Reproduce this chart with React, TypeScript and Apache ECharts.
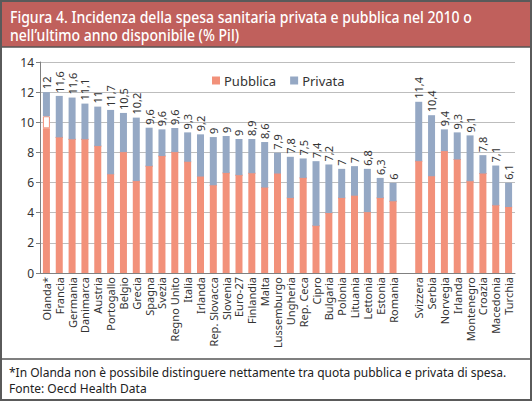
import React, { useEffect, useRef } from "react";
import * as echarts from "echarts";

const categories = [
  "Olanda*", "Francia", "Germania", "Danimarca", "Austria", "Portogallo", "Belgio", "Grecia",
  "Spagna", "Svezia", "Regno Unito", "Italia", "Irlanda", "Rep. Slovacca", "Slovenia", "Euro-27",
  "Finlandia", "Malta", "Lussemburgo", "Ungheria", "Rep. Ceca", "Cipro", "Bulgaria", "Polonia",
  "Lituania", "Lettonia", "Estonia", "Romania", "",
  "Svizzera", "Serbia", "Norvegia", "Irlanda", "Montenegro", "Croazia", "Macedonia", "Turchia",
];

const pubblica = [
  9.6, 9.0, 8.87, 8.87, 8.42, 6.55, 8.02, 6.1,
  7.09, 7.76, 8.02, 7.38, 6.4, 5.82, 6.64, 6.49,
  6.62, 5.67, 6.6, 4.98, 6.31, 3.13, 3.98, 4.98,
  5.13, 4.04, 4.98, 4.76, null,
  7.42, 6.42, 8.09, 7.53, 6.09, 6.6, 4.49, 4.38,
];

// Olanda: quota non attribuibile
const nonDistinguibile = [
  0.8, 0, 0, 0, 0, 0, 0, 0,
  0, 0, 0, 0, 0, 0, 0, 0,
  0, 0, 0, 0, 0, 0, 0, 0,
  0, 0, 0, 0, null,
  0, 0, 0, 0, 0, 0, 0, 0,
];

const privata = [
  1.6, 2.75, 2.77, 2.37, 2.62, 4.27, 2.6, 4.21,
  2.55, 1.77, 1.6, 1.95, 2.8, 3.2, 2.45, 2.4,
  2.27, 3.02, 1.38, 2.73, 1.29, 4.29, 3.22, 1.93,
  1.96, 2.87, 1.33, 1.22, null,
  3.94, 4.05, 1.44, 1.8, 3.04, 1.22, 2.64, 1.6,
];

const totalLabels = [
  12, 11.6, 11.6, 11.1, 11, 11.7, 10.5, 10.2,
  9.6, 9.6, 9.6, 9.3, 9.2, 9, 9, 9,
  8.9, 8.6, 7.9, 7.8, 7.5, 7.4, 7.2, 7,
  7, 6.8, 6.3, 6, null,
  11.4, 10.4, 9.4, 9.3, 9.1, 7.8, 7.1, 6.1,
];

const yTicks = [0, 2, 4, 6, 8, 10, 12, 14];

const titleLines = [
  "Figura 4. Incidenza della spesa sanitaria privata e pubblica nel 2010 o",
  "nell\u2019ultimo anno disponibile (% Pil)",
];
const footerLines = [
  "*In Olanda non \u00e8 possibile distinguere nettamente tra quota pubblica e privata di spesa.",
  "Fonte: Oecd Health Data",
];

const FONT = "'Noto Sans', 'Open Sans', sans-serif";
const C_PUB = "#f2917a";
const C_PRIV = "#95a8c4";

export default function App() {
  const ref = useRef<HTMLDivElement>(null);

  useEffect(() => {
    document.body.style.margin = "0";
    if (!ref.current) return;
    const chart = echarts.init(ref.current, undefined, { renderer: "svg" });
    chart.setOption({
      animation: false,
      backgroundColor: "#ffffff",
      textStyle: { fontFamily: FONT },
      grid: { left: 40, right: 17, top: 62, bottom: 128, containLabel: false },
      legend: {
        data: ["Pubblica", "Privata"],
        left: 207,
        top: 69,
        icon: "rect",
        itemWidth: 8,
        itemHeight: 8,
        itemGap: 14,
        textStyle: { fontSize: 13, color: "#333", fontFamily: FONT, padding: [0, 0, 0, -1] },
      },
      xAxis: {
        type: "category",
        data: categories,
        axisLine: { lineStyle: { color: "#808080" } },
        axisTick: { show: false },
        axisLabel: {
          rotate: 90,
          interval: 0,
          fontSize: 11,
          color: "#333",
          margin: 4,
          fontFamily: FONT,
        },
      },
      yAxis: {
        type: "value",
        min: 0,
        max: 14,
        interval: 2,
        axisLine: { show: true, lineStyle: { color: "#808080" } },
        axisTick: { show: true, length: 4, lineStyle: { color: "#808080" } },
        axisLabel: {
          fontSize: 12,
          color: "#333",
          margin: 6,
          fontFamily: FONT,
          formatter: (v: number) => (yTicks.includes(v) ? String(v) : ""),
        },
        splitLine: { lineStyle: { color: "#bdbdbd", width: 1 } },
      },
      series: [
        {
          name: "Pubblica",
          type: "bar",
          stack: "tot",
          data: pubblica,
          barWidth: 7,
          itemStyle: { color: C_PUB },
        },
        {
          name: "nd",
          type: "bar",
          stack: "tot",
          data: nonDistinguibile,
          barWidth: 7,
          itemStyle: { color: "#ffffff", borderColor: C_PUB, borderWidth: 1 },
        },
        {
          name: "Privata",
          type: "bar",
          stack: "tot",
          data: privata,
          barWidth: 7,
          itemStyle: { color: C_PRIV },
          label: {
            show: true,
            position: "top",
            rotate: 90,
            align: "left",
            verticalAlign: "middle",
            distance: 3,
            fontSize: 11,
            color: "#333",
            fontFamily: FONT,
            formatter: (p: any) => {
              const v = totalLabels[p.dataIndex];
              return v == null ? "" : String(v).replace(".", ",");
            },
          },
        },
      ],
      graphic: [
        {
          type: "rect",
          shape: { x: 1, y: 1, width: 530, height: 46 },
          style: { fill: "#c0605c" },
          silent: true,
        },
        {
          type: "text",
          x: 10,
          y: 8,
          scaleX: 0.85,
          style: {
            text: titleLines[0],
            fill: "#ffffff",
            fontSize: 16.5,
            fontWeight: 500,
            fontFamily: FONT,
          },
          silent: true,
        },
        {
          type: "text",
          x: 10,
          y: 26,
          scaleX: 0.85,
          style: {
            text: titleLines[1],
            fill: "#ffffff",
            fontSize: 16.5,
            fontWeight: 500,
            fontFamily: FONT,
          },
          silent: true,
        },
        {
          type: "line",
          shape: { x1: 1, y1: 47, x2: 531, y2: 47 },
          style: { stroke: "#555", lineWidth: 1.5 },
          silent: true,
        },
        {
          type: "line",
          shape: { x1: 1, y1: 359, x2: 531, y2: 359 },
          style: { stroke: "#555", lineWidth: 1.5 },
          silent: true,
        },
        {
          type: "text",
          x: 9,
          y: 365,
          style: {
            text: footerLines[0],
            fill: "#222",
            fontSize: 12,
            lineHeight: 14,
            fontFamily: FONT,
          },
          silent: true,
        },
        {
          type: "text",
          x: 9,
          y: 381,
          style: {
            text: footerLines[1],
            fill: "#222",
            fontSize: 12,
            lineHeight: 14,
            fontFamily: FONT,
          },
          silent: true,
        },
        {
          type: "rect",
          shape: { x: 1, y: 1, width: 530, height: 399 },
          style: { fill: "none", stroke: "#5a5a5a", lineWidth: 2 },
          silent: true,
        },
      ],
    });
    return () => chart.dispose();
  }, []);

  return (
    <div
      ref={ref}
      style={{ position: "absolute", left: 0, top: 0, width: 532, height: 401 }}
    />
  );
}
